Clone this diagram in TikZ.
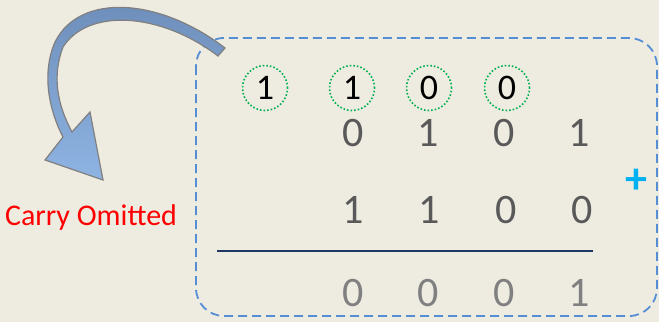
\documentclass[tikz,border=0pt]{standalone}
\usepackage{fontspec}
\setmainfont{Carlito}
\definecolor{bgtan}{HTML}{EEECE1}
\definecolor{boxblue}{HTML}{558ED5}
\definecolor{carrygreen}{HTML}{00B050}
\definecolor{digitgray}{HTML}{595959}
\definecolor{sumgray}{HTML}{808080}
\definecolor{rulenavy}{HTML}{1F3864}
\definecolor{pluscyan}{HTML}{00B0F0}
\definecolor{arrowdark}{HTML}{6C8CB8}
\definecolor{arrowlight}{HTML}{8EB4E3}
\tikzset{
  carry/.style={circle,draw=carrygreen,dotted,line width=1.6pt,minimum size=45pt,inner sep=0pt,font=\fontsize{36}{36}\selectfont,text=black},
  digit/.style={font=\fontsize{42}{42}\selectfont,text=digitgray,inner sep=0pt},
  sumdigit/.style={digit,text=sumgray}
}
\begin{document}
\begin{tikzpicture}[x=1pt,y=-1pt]
    \fill[bgtan] (0,0) rectangle (659,322);
    \useasboundingbox (0,0) rectangle (659,322);
    % dashed frame
    \draw[boxblue,dash pattern=on 9pt off 5pt,line width=1.8pt,rounded corners=28pt] (196,38) rectangle (657,316);
    % carries
    \node[carry] (c1) at (265,88) {1};
    \node[carry] (c2) at (352,88) {1};
    \node[carry] (c3) at (429,88) {0};
    \node[carry] (c4) at (507,88) {0};
    % operands and sum
    \foreach \d [count=\i] in {0,1,0,1} {
        \node[digit] (a\i) at ({353+(\i-1)*75.5},133) {\d};
    }
    \foreach \d [count=\i] in {1,1,0,0} {
        \node[digit] (b\i) at ({353+(\i-1)*76.5},210) {\d};
    }
    \foreach \d [count=\i] in {0,0,0,1} {
        \node[sumdigit] (s\i) at ({353+(\i-1)*75.5},293) {\d};
    }
    \coordinate (ruleL) at (217,251);
    \coordinate (ruleR) at (593,251);
    \draw[rulenavy,line width=1.5pt] (ruleL) -- (ruleR);
    \node[text=pluscyan,font=\fontsize{44}{44}\selectfont\bfseries] (plus) at (636,181) {+};
    \node[text=red,font=\fontsize{30}{30}\selectfont] (omit) at (91,217) {Carry Omitted};
    % curved arrow
    \shade[top color=arrowdark,bottom color=arrowlight,draw=gray,line width=1.2pt]
        (225,48) .. controls (160,-2) and (80,-8) .. (55,42)
        .. controls (42,72) and (48,108) .. (63,137)
        -- (45,160) -- (103,180) -- (90,112) -- (72,132)
        .. controls (57,104) and (52,76) .. (63,47)
        .. controls (88,8) and (160,12) .. (218,56) -- cycle;
\end{tikzpicture}
\end{document}
